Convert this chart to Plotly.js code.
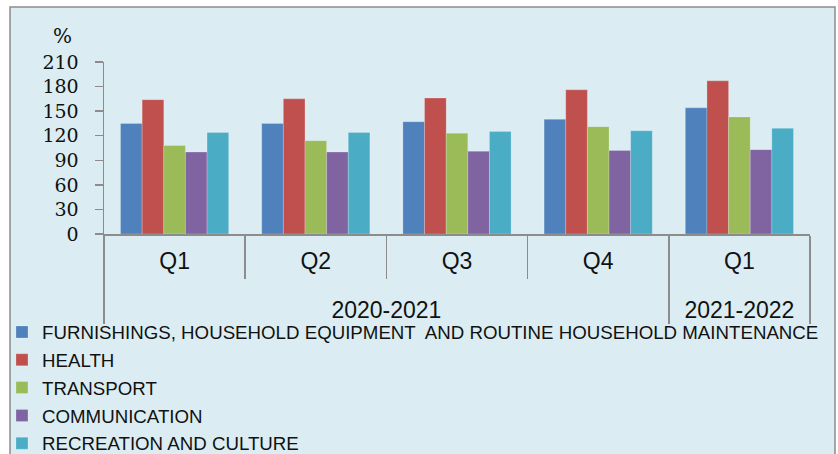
<!DOCTYPE html>
<html>
<head>
<meta charset="utf-8">
<script src="https://cdn.plot.ly/plotly-3.0.1.min.js"></script>
<style>html,body{margin:0;padding:0;background:#fff;}#chart{width:838px;height:454px;}</style>
</head>
<body>
<div id="chart"></div>
<script>
const periods = ["2020-2021","2020-2021","2020-2021","2020-2021","2021-2022"];
const quarters = ["Q1","Q2","Q3","Q4","Q1"];
const seriesNames = [
  "FURNISHINGS, HOUSEHOLD EQUIPMENT  AND ROUTINE HOUSEHOLD MAINTENANCE",
  "HEALTH",
  "TRANSPORT",
  "COMMUNICATION",
  "RECREATION AND CULTURE"
];
const furnishings = [135, 135, 137, 140, 154];
const health = [164, 165, 166, 176, 187];
const transport = [108, 114, 123, 131, 143];
const communication = [100, 100, 101, 102, 103];
const recreation = [124, 124, 125, 126, 129];
const colors = ["#4f81bd","#c0504d","#9bbb59","#8064a2","#4bacc6"];
const yTicks = [0,30,60,90,120,150,180,210];

// quarter labels get a small spacer line so the period row sits lower, as in the reference
const quarterLabels = quarters.map(q => q + "<br><span style='font-size:8px'>&nbsp;</span>");

const allValues = [furnishings, health, transport, communication, recreation];
const traces = allValues.map((vals, i) => ({
  type: "bar",
  name: seriesNames[i],
  x: [periods, quarterLabels],
  y: vals,
  legendgroup: "g" + i,
  marker: {color: colors[i], line: {color: "rgba(255,255,255,0.35)", width: 0.6}},
  hoverinfo: "y"
}));

const layout = {
  width: 838, height: 454,
  margin: {l: 104, r: 28, t: 62, b: 220, autoexpand: false},
  paper_bgcolor: "#ffffff",
  plot_bgcolor: "rgba(0,0,0,0)",
  barmode: "group",
  bargap: 0.234,
  bargroupgap: 0,
  showlegend: true,
  legend: {
    x: -0.1445, xanchor: "left", y: -0.461, yanchor: "top",
    orientation: "v", bgcolor: "rgba(0,0,0,0)",
    font: {family: "Liberation Sans, Arial, sans-serif", size: 18.7, color: "#111"},
    tracegroupgap: 0.5, itemwidth: 30
  },
  xaxis: {
    type: "multicategory", automargin: false,
    showline: true, linecolor: "#8c8c8c", linewidth: 1.5,
    ticks: "outside", tickson: "boundaries", ticklen: 43, tickcolor: "#8c8c8c", tickwidth: 1.5,
    ticklabelstandoff: 6,
    showdividers: true, dividercolor: "#8c8c8c", dividerwidth: 1.5,
    tickfont: {family: "Liberation Sans, Arial, sans-serif", size: 23, color: "#111"},
    showgrid: false, zeroline: false
  },
  yaxis: {
    range: [0, 210], tickvals: yTicks, ticktext: yTicks.map(String), automargin: false,
    showline: true, linecolor: "#8c8c8c", linewidth: 1.5,
    ticks: "outside", ticklen: 8, tickcolor: "#8c8c8c", tickwidth: 1.5,
    ticklabelstandoff: 12,
    tickfont: {family: "DejaVu Serif, serif", size: 19, color: "#111"},
    showgrid: false, zeroline: false
  },
  shapes: [{
    type: "rect", xref: "paper", yref: "paper", layer: "below",
    x0: -0.1331, x1: 1.0354, y0: -2, y1: 1.3198,
    fillcolor: "#dbedf3", line: {color: "#8c8c8c", width: 1.5}
  }],
  annotations: [{
    text: "%", xref: "paper", yref: "paper", x: -0.0581, y: 1.153,
    xanchor: "center", yanchor: "middle", showarrow: false,
    font: {family: "DejaVu Serif, serif", size: 20, color: "#111"}
  }]
};

Plotly.newPlot("chart", traces, layout, {displayModeBar: false, staticPlot: true});
</script>
</body>
</html>
